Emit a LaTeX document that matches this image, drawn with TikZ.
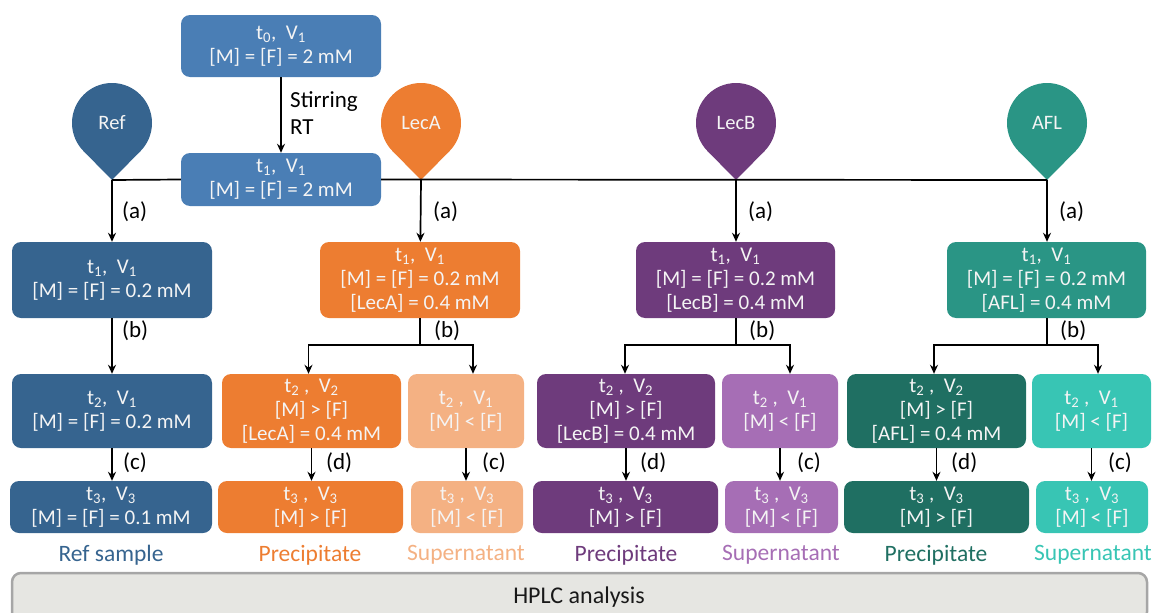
\documentclass[tikz,border=0pt]{standalone}
\usepackage{fontspec}
\setmainfont{Carlito}
\usetikzlibrary{arrows.meta,calc}
\definecolor{topblue}{HTML}{4A7EB5}
\definecolor{refblue}{HTML}{36648F}
\definecolor{orng}{HTML}{ED7D31}
\definecolor{lorng}{HTML}{F4B183}
\definecolor{purp}{HTML}{6E3B7C}
\definecolor{lpurp}{HTML}{A66EB5}
\definecolor{teal1}{HTML}{2A9585}
\definecolor{dteal}{HTML}{1F6F62}
\definecolor{lteal}{HTML}{38C5B4}
\definecolor{hplcfill}{HTML}{E6E6E2}
\definecolor{hplcdraw}{HTML}{A6A6A6}
\definecolor{boxtext}{HTML}{F4F4F4}
\newcommand\tsb[1]{\textsubscript{#1}}
\newcommand\drawpin[4]{%
  \fill[#3] (#2,180) -- ($(#2,123)+(44.57:40)$) -- (#2,123) -- ($(#2,123)+(135.43:40)$) -- cycle;
  \node[pinnode, fill=#3] (#1) at (#2,123) {#4};
  \coordinate (#1tip) at (#2,180);
}
\tikzset{
  box/.style={rounded corners=9pt, text=boxtext, align=center, inner sep=0pt,
    font=\fontsize{21}{24}\selectfont},
  pinnode/.style={circle, minimum size=80pt, inner sep=0pt, text=boxtext,
    font=\fontsize{20.5}{24}\selectfont},
  lab/.style={font=\fontsize{23}{27}\selectfont, anchor=west, inner sep=0pt},
  bot/.style={font=\fontsize{23.5}{28}\selectfont, inner sep=0pt},
  arr/.style={line width=1.7pt, -{Stealth[length=9pt,width=8pt]}},
  ln/.style={line width=1.7pt}
}
\begin{document}
\begin{tikzpicture}[x=1pt,y=-1pt]
\useasboundingbox (0,0) rectangle (1154,613);
\clip (0,0) rectangle (1154,613);

% top boxes
\node[box, fill=topblue, minimum width=200pt, minimum height=62pt] (t0) at (281,46)
  {t\tsb{0},\ \ V\tsb{1}\\\relax [M] = [F] = 2 mM};
\node[box, fill=topblue, minimum width=200pt, minimum height=53pt] (t1) at (281,179.5)
  {t\tsb{1},\ \ V\tsb{1}\\\relax [M] = [F] = 2 mM};
\draw[arr] (t0) -- (t1);
\node[lab, align=left] (stir) at (290,113.5) {Stirring\\RT};

% pins
\drawpin{ref}{112}{refblue}{Ref}
\drawpin{leca}{421}{orng}{LecA}
\drawpin{lecb}{736}{purp}{LecB}
\drawpin{afl}{1047}{teal1}{AFL}

\draw[ln] (reftip) -- (t1.west);
\draw[ln] (t1.east) -- (afltip);

% ---------- Ref column ----------
\node[box, fill=refblue, minimum width=200pt, minimum height=76pt] (r1) at (112,280)
  {t\tsb{1},\ \ V\tsb{1}\\\relax [M] = [F] = 0.2 mM};
\node[box, fill=refblue, minimum width=200pt, minimum height=74pt] (r2) at (112,411)
  {t\tsb{2},\ \ V\tsb{1}\\\relax [M] = [F] = 0.2 mM};
\node[box, fill=refblue, minimum width=202pt, minimum height=52pt] (r3) at (111,507)
  {t\tsb{3},\ \ V\tsb{3}\\\relax [M] = [F] = 0.1 mM};
\draw[arr] (reftip) -- (r1);
\draw[arr] (r1) -- (r2);
\draw[arr] (r2.south) -- (r2.south |- r3.north);
\node[lab] (ra) at (122,212) {(a)};
\node[lab] (rb) at (122,331) {(b)};
\node[lab] (rc) at (123,463) {(c)};
\node[bot, text=refblue] (rl) at (111,555) {Ref sample};

% ---------- LecA column ----------
\node[box, fill=orng, minimum width=200pt, minimum height=76pt] (a1) at (420,280)
  {t\tsb{1},\ \ V\tsb{1}\\\relax [M] = [F] = 0.2 mM\\\relax [LecA] = 0.4 mM};
\node[box, fill=orng, minimum width=179pt, minimum height=74pt] (a2p) at (311.5,411)
  {t\tsb{2}\ ,\ \ V\tsb{2}\\\relax [M] > [F]\\\relax [LecA] = 0.4 mM};
\node[box, fill=lorng, minimum width=116pt, minimum height=74pt] (a2s) at (466,411)
  {t\tsb{2}\ ,\ \ V\tsb{1}\\\relax [M] < [F]};
\node[box, fill=orng, minimum width=185pt, minimum height=52pt] (a3p) at (310.5,507)
  {t\tsb{3}\ ,\ \ V\tsb{3}\\\relax [M] > [F]};
\node[box, fill=lorng, minimum width=112pt, minimum height=52pt] (a3s) at (467,507)
  {t\tsb{3}\ ,\ \ V\tsb{3}\\\relax [M] < [F]};
\draw[arr] (lecatip) -- (a1);
\draw[ln] (a1.south) -- ++(0,27) coordinate (asplit);
\draw[arr] (asplit) -| ($(a2p.north)+(-3,0)$);
\draw[arr] (asplit) -| ($(a2s.north)+(7,0)$);
\draw[arr] (a2p.south) -- (a2p.south |- a3p.north);
\draw[arr] (a2s.south) -- (a2s.south |- a3s.north);
\node[lab] (aa) at (433,212) {(a)};
\node[lab] (ab) at (434,331) {(b)};
\node[lab] (ad) at (326,463) {(d)};
\node[lab] (ac) at (482,463) {(c)};
\node[bot, text=orng] (al1) at (310,555) {Precipitate};
\node[bot, text=lorng] (al2) at (466,555) {Supernatant};

% ---------- LecB column ----------
\node[box, fill=purp, minimum width=199pt, minimum height=76pt] (b1) at (735.5,280)
  {t\tsb{1},\ \ V\tsb{1}\\\relax [M] = [F] = 0.2 mM\\\relax [LecB] = 0.4 mM};
\node[box, fill=purp, minimum width=178pt, minimum height=74pt] (b2p) at (626,411)
  {t\tsb{2}\ ,\ \ V\tsb{2}\\\relax [M] > [F]\\\relax [LecB] = 0.4 mM};
\node[box, fill=lpurp, minimum width=116pt, minimum height=74pt] (b2s) at (780,411)
  {t\tsb{2}\ ,\ \ V\tsb{1}\\\relax [M] < [F]};
\node[box, fill=purp, minimum width=185pt, minimum height=52pt] (b3p) at (625.5,507)
  {t\tsb{3}\ ,\ \ V\tsb{3}\\\relax [M] > [F]};
\node[box, fill=lpurp, minimum width=113pt, minimum height=52pt] (b3s) at (781.5,507)
  {t\tsb{3}\ ,\ \ V\tsb{3}\\\relax [M] < [F]};
\draw[arr] (lecbtip) -- (lecbtip |- b1.north);
\draw[ln] (lecbtip |- b1.south) -- ++(0,27) coordinate (bsplit);
\draw[arr] (bsplit) -| ($(b2p.north)+(-1,0)$);
\draw[arr] (bsplit) -| ($(b2s.north)+(10,0)$);
\draw[arr] (b2p.south) -- (b2p.south |- b3p.north);
\draw[arr] (b2s.south) -- (b2s.south |- b3s.north);
\node[lab] (ba) at (748,212) {(a)};
\node[lab] (bb) at (749,331) {(b)};
\node[lab] (bd) at (640,463) {(d)};
\node[lab] (bc) at (797,463) {(c)};
\node[bot, text=purp] (bl1) at (626,555) {Precipitate};
\node[bot, text=lpurp] (bl2) at (781,555) {Supernatant};

% ---------- AFL column ----------
\node[box, fill=teal1, minimum width=199pt, minimum height=76pt] (f1) at (1046.5,280)
  {t\tsb{1},\ \ V\tsb{1}\\\relax [M] = [F] = 0.2 mM\\\relax [AFL] = 0.4 mM};
\node[box, fill=dteal, minimum width=179pt, minimum height=74pt] (f2p) at (936.5,411)
  {t\tsb{2}\ ,\ \ V\tsb{2}\\\relax [M] > [F]\\\relax [AFL] = 0.4 mM};
\node[box, fill=lteal, minimum width=119pt, minimum height=74pt] (f2s) at (1091.5,411)
  {t\tsb{2}\ ,\ \ V\tsb{1}\\\relax [M] < [F]};
\node[box, fill=dteal, minimum width=185pt, minimum height=52pt] (f3p) at (936.5,507)
  {t\tsb{3}\ ,\ \ V\tsb{3}\\\relax [M] > [F]};
\node[box, fill=lteal, minimum width=112pt, minimum height=52pt] (f3s) at (1092,507)
  {t\tsb{3}\ ,\ \ V\tsb{3}\\\relax [M] < [F]};
\draw[arr] (afltip) -- (afltip |- f1.north);
\draw[ln] (afltip |- f1.south) -- ++(0,27) coordinate (fsplit);
\draw[arr] (fsplit) -| ($(f2p.north)+(-2.5,0)$);
\draw[arr] (fsplit) -| ($(f2s.north)+(6.5,0)$);
\draw[arr] (f2p.south) -- (f2p.south |- f3p.north);
\draw[arr] (f2s.south) -- (f2s.south |- f3s.north);
\node[lab] (fa) at (1059,212) {(a)};
\node[lab] (fb) at (1060,331) {(b)};
\node[lab] (fd) at (951,463) {(d)};
\node[lab] (fc) at (1108,463) {(c)};
\node[bot, text=dteal] (fl1) at (936,555) {Precipitate};
\node[bot, text=lteal] (fl2) at (1093,555) {Supernatant};

% ---------- HPLC ----------
\node[draw=hplcdraw, line width=2.5pt, fill=hplcfill, rounded corners=9pt,
  minimum width=1135pt, minimum height=48pt, inner sep=0pt] (hplc) at (579.5,597) {};
\node[bot, text=black!90, font=\fontsize{24}{28}\selectfont] (hplct) at (579,597) {HPLC analysis};
\end{tikzpicture}
\end{document}
